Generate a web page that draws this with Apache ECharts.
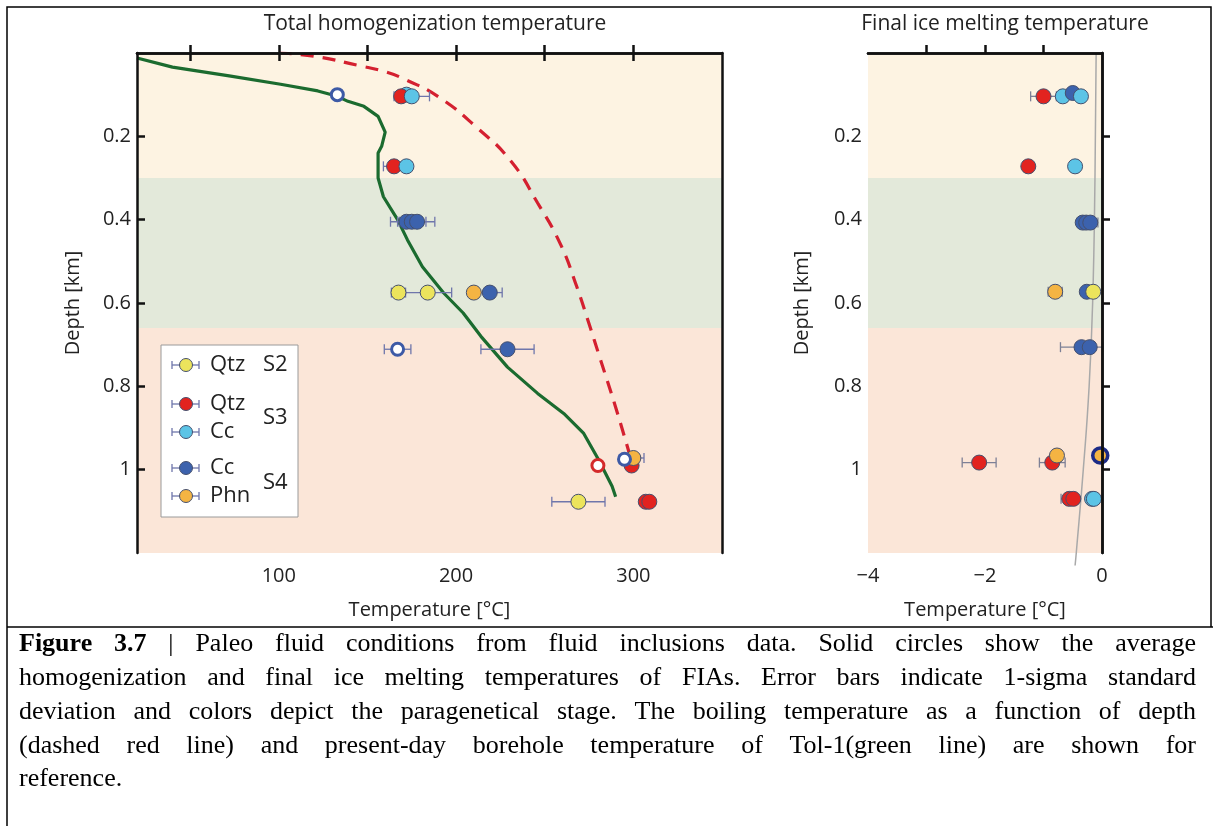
<!DOCTYPE html>
<html><head><meta charset="utf-8">
<script src="https://cdn.jsdelivr.net/npm/echarts/dist/echarts.min.js"></script>
<style>html,body{margin:0;padding:0;background:#fff;}#c{width:1213px;height:826px;}</style>
</head><body><div id="c"></div>
<script>
// ---------- DATA ----------
// Total homogenization temperature: [T (°C), depth (km), 1-sigma]
const qtzS2_Th = [[167.5,0.575,4],[184,0.575,13.5],[269,1.077,15]];
const qtzS3_Th = [[169,0.104,0],[165,0.272,6],[299,0.99,0],[307,1.077,0],[309,1.077,0]];
const ccS3_Th  = [[172,0.1,0],[175,0.104,10],[172,0.272,3]];
const ccS4_Th  = [[172,0.405,9],[175,0.405,8],[178,0.405,10],[219,0.575,7],[229,0.711,15]];
const phnS4_Th = [[210,0.575,0],[300,0.972,6]];
const openBlue_Th = [[133,0.1,0],[167,0.711,7.5],[295,0.975,3]];
const openRed_Th  = [[280,0.99,0]];
// present-day borehole temperature Tol-1: [T, depth]
const borehole = [[20,0.012],[40,0.034],[72,0.055],[101,0.075],[122,0.091],[133,0.104],[139,0.116],[148,0.128],[156,0.152],[160,0.19],[158,0.224],[156,0.24],[156,0.3],[159,0.345],[167,0.4],[172.5,0.448],[181,0.513],[193,0.576],[204,0.624],[214,0.68],[229,0.754],[246,0.817],[260.7,0.865],[272,0.913],[280,0.973],[288,1.04],[290,1.065]];
// boiling temperature curve: [T, depth]
const boiling = [[100,0.0],[120,0.008],[145,0.03],[160,0.045],[172,0.065],[190,0.105],[212,0.18],[231,0.26],[246,0.36],[259,0.46],[268,0.56],[275,0.65],[281,0.73],[290,0.85],[299,0.98]];
// Final ice melting temperature: [Tm (°C), depth (km), 1-sigma]
const qtzS2_Tm = [[-0.15,0.573,0]];
const qtzS3_Tm = [[-1.0,0.104,0.22],[-1.26,0.272,0],[-2.1,0.983,0.29],[-0.85,0.983,0.22],[-0.56,1.07,0.14],[-0.49,1.07,0]];
const ccS3_Tm  = [[-0.67,0.104,0],[-0.46,0.272,0],[-0.17,1.07,0],[-0.14,1.07,0]];
const ccS4_Tm  = [[-0.5,0.096,0],[-0.33,0.407,0],[-0.27,0.407,0],[-0.2,0.407,0.13],[-0.26,0.573,0],[-0.35,0.706,0.36],[-0.21,0.706,0]];
const ccS3b_Tm = [[-0.36,0.104,0]];
const phnS4_Tm = [[-0.8,0.573,0.12],[-0.77,0.966,0]];
const ringed_Tm = [[-0.03,0.966,0]];
const greyLine_Tm = [[-0.1,0.0],[-0.12,0.3],[-0.16,0.6],[-0.22,0.8],[-0.32,1.0],[-0.44,1.2],[-0.46,1.23]];
// stage bands (depth ranges)
const bands = [[0,0.3,'#fdf3e2'],[0.3,0.66,'#e3e9da'],[0.66,1.2,'#fbe6d8']];
// axis ticks
const thTicks = [50,100,150,200,250,300];
const thLabels = [100,200,300];
const tmTicks = [-3,-2,-1];
const tmLabels = [-4,-2,0];
const depthTicks = [0.2,0.4,0.6,0.8,1.0];

const FONT = '"Open Sans", "DejaVu Sans", sans-serif';
const C = {qtzS2:'#ece45c', qtzS3:'#e2231f', ccS3:'#5cc4e6', ccS4:'#3c62ad', phnS4:'#f4b443'};
const EDGE = '#45506e';

function errSeries(data, xi, yi, color){
  return {type:'custom', xAxisIndex:xi, yAxisIndex:yi, data:data, z:3, clip:false,
    encode:{x:0,y:1},
    renderItem:function(params, api){
      const x=api.value(0), y=api.value(1), s=api.value(2);
      if(!s) return null;
      const a=api.coord([x-s,y]), b=api.coord([x+s,y]); const h=5;
      const st={stroke:color, lineWidth:1.3};
      return {type:'group', children:[
        {type:'line', shape:{x1:a[0],y1:a[1],x2:b[0],y2:b[1]}, style:st},
        {type:'line', shape:{x1:a[0],y1:a[1]-h,x2:a[0],y2:a[1]+h}, style:st},
        {type:'line', shape:{x1:b[0],y1:b[1]-h,x2:b[0],y2:b[1]+h}, style:st}
      ]};
    }};
}
function dotSeries(data, xi, yi, fill, border, bw, size){
  return {type:'scatter', xAxisIndex:xi, yAxisIndex:yi, data:data.map(d=>[d[0],d[1]]), z:4,
    symbol:'circle', symbolSize:size||15, clip:false,
    itemStyle:{color:fill, borderColor:border||EDGE, borderWidth:bw||1, opacity:1}};
}
function group(data, xi, yi, fill, barColor, border, bw, size){
  return [errSeries(data, xi, yi, barColor), dotSeries(data, xi, yi, fill, border, bw, size)];
}
function bandSeries(xi, yi){
  return {type:'line', xAxisIndex:xi, yAxisIndex:yi, data:[], z:0, silent:true,
    markArea:{silent:true, data:bands.map(b=>[{yAxis:b[0], itemStyle:{color:b[2]}},{yAxis:b[1]}])}};
}
const BAR_L = '#6f76ab', BAR_R = '#7d8096';
const series = [].concat(
  [bandSeries(0,0), bandSeries(2,2)],
  [{type:'line', xAxisIndex:0, yAxisIndex:0, data:borehole, showSymbol:false, z:2,
    lineStyle:{color:'#1b6b2f', width:3.2}},
   {type:'line', xAxisIndex:0, yAxisIndex:0, data:boiling, showSymbol:false, smooth:true, z:2,
    lineStyle:{color:'#d42030', width:3.2, type:[13,9]}}],
  group(ccS3_Th.slice(0,1),0,0,C.ccS3,BAR_L),
  group(qtzS3_Th,0,0,C.qtzS3,BAR_L),
  group(ccS3_Th.slice(1),0,0,C.ccS3,BAR_L),
  group(qtzS2_Th,0,0,C.qtzS2,BAR_L),
  group(ccS4_Th,0,0,C.ccS4,BAR_L),
  group(phnS4_Th,0,0,C.phnS4,BAR_L),
  group(openBlue_Th,0,0,'#ffffff',BAR_L,'#3d5aa6',3,12),
  group(openRed_Th,0,0,'#ffffff',BAR_L,'#d42a2a',3,12),
  [{type:'line', xAxisIndex:2, yAxisIndex:2, data:greyLine_Tm, showSymbol:false, smooth:true, clip:false, z:2,
    lineStyle:{color:'#a9a9a9', width:1.5}}],
  group(qtzS3_Tm,2,2,C.qtzS3,BAR_R),
  group(ccS3_Tm,2,2,C.ccS3,BAR_R),
  group(ccS4_Tm,2,2,C.ccS4,BAR_R),
  group(ccS3b_Tm,2,2,C.ccS3,BAR_R),
  group(qtzS2_Tm,2,2,C.qtzS2,BAR_R),
  group(phnS4_Tm,2,2,C.phnS4,BAR_R),
  group(ringed_Tm,2,2,C.phnS4,BAR_R,'#1c2b86',3.5,15)
);

const AX = {color:'#111', width:2.5};
const lbl = {fontSize:20, color:'#222', fontFamily:FONT};
const nameStyle = {fontSize:20, color:'#222', fontFamily:FONT};
function fmtMinus(v){ v=+(+v).toFixed(1); return v<0 ? '\u2212'+Math.abs(v) : String(v); }

const option = {
  animation:false,
  backgroundColor:'#fff',
  title:[
    {text:'Total homogenization temperature', left:430, top:9, textAlign:'center', textStyle:{fontSize:21, fontWeight:'normal', color:'#222', fontFamily:FONT}},
    {text:'Final ice melting temperature', left:1000, top:9, textAlign:'center', textStyle:{fontSize:21, fontWeight:'normal', color:'#222', fontFamily:FONT}}
  ],
  grid:[
    {left:137, top:53, width:585, height:500},
    {left:868, top:53, width:234, height:500}
  ],
  xAxis:[
    {gridIndex:0, type:'value', min:20, max:350, position:'bottom', z:5,
     axisLine:{show:true, lineStyle:AX}, splitLine:{show:false},
     axisTick:{show:true, inside:true, length:8, lineStyle:AX, customValues:thTicks},
     axisLabel:Object.assign({customValues:thLabels, margin:13}, lbl),
     name:'Temperature [°C]', nameLocation:'middle', nameGap:47, nameTextStyle:nameStyle},
    {gridIndex:0, type:'value', min:20, max:350, position:'top', z:5,
     axisLine:{show:true, lineStyle:AX}, splitLine:{show:false},
     axisTick:{show:true, inside:true, length:8, lineStyle:AX, customValues:thTicks},
     axisLabel:{show:false}},
    {gridIndex:1, type:'value', min:-4, max:0, position:'bottom', z:5,
     axisLine:{show:true, lineStyle:AX}, splitLine:{show:false},
     axisTick:{show:true, inside:true, length:8, lineStyle:AX, customValues:tmTicks},
     axisLabel:Object.assign({customValues:tmLabels, margin:13, formatter:fmtMinus}, lbl),
     name:'Temperature [°C]', nameLocation:'middle', nameGap:47, nameTextStyle:nameStyle},
    {gridIndex:1, type:'value', min:-4, max:0, position:'top', z:5,
     axisLine:{show:true, lineStyle:AX}, splitLine:{show:false},
     axisTick:{show:false}, axisLabel:{show:false}}
  ],
  yAxis:[
    {gridIndex:0, type:'value', min:0, max:1.2, inverse:true, position:'left', z:5,
     axisLine:{show:true, lineStyle:AX}, splitLine:{show:false},
     axisTick:{show:true, inside:true, length:8, lineStyle:AX, customValues:depthTicks},
     axisLabel:Object.assign({customValues:depthTicks, margin:6, formatter:fmtMinus}, lbl),
     name:'Depth [km]', nameLocation:'middle', nameGap:54, nameRotate:90, nameTextStyle:nameStyle},
    {gridIndex:0, type:'value', min:0, max:1.2, inverse:true, position:'right', z:5,
     axisLine:{show:true, lineStyle:AX}, splitLine:{show:false}, axisTick:{show:false}, axisLabel:{show:false}},
    {gridIndex:1, type:'value', min:0, max:1.2, inverse:true, position:'left', z:5,
     axisLine:{show:true, lineStyle:AX}, splitLine:{show:false},
     axisTick:{show:true, inside:true, length:8, lineStyle:AX, customValues:depthTicks},
     axisLabel:Object.assign({customValues:depthTicks, margin:6, formatter:fmtMinus}, lbl),
     name:'Depth [km]', nameLocation:'middle', nameGap:56, nameRotate:90, nameTextStyle:nameStyle},
    {gridIndex:1, type:'value', min:0, max:1.2, inverse:true, position:'right', z:5,
     axisLine:{show:true, lineStyle:AX}, splitLine:{show:false}, axisTick:{show:false}, axisLabel:{show:false}}
  ],
  series:series
};

// ---------- legend + frame + caption (graphic) ----------
const legendRows = [
  {y:365, color:C.qtzS2, text:'Qtz'},
  {y:404, color:C.qtzS3, text:'Qtz'},
  {y:432, color:C.ccS3, text:'Cc'},
  {y:468, color:C.ccS4, text:'Cc'},
  {y:496, color:C.phnS4, text:'Phn'}
];
const legendStages = [{y:365, text:'S2'},{y:418, text:'S3'},{y:483, text:'S4'}];
const g = [];
g.push({type:'rect', z:100, shape:{x:161, y:345, width:137, height:172}, style:{fill:'#fff', stroke:'#9a9a9a', lineWidth:1}});
legendRows.forEach(r=>{
  const st={stroke:BAR_L, lineWidth:1.3};
  g.push({type:'line', z:101, shape:{x1:172,y1:r.y,x2:199,y2:r.y}, style:st});
  g.push({type:'line', z:101, shape:{x1:172,y1:r.y-4,x2:172,y2:r.y+4}, style:st});
  g.push({type:'line', z:101, shape:{x1:199,y1:r.y-4,x2:199,y2:r.y+4}, style:st});
  g.push({type:'circle', z:102, shape:{cx:186, cy:r.y, r:6.5}, style:{fill:r.color, stroke:EDGE, lineWidth:1}});
  g.push({type:'text', z:102, x:210, y:r.y, style:{text:r.text, fill:'#222', font:'22px '+FONT, textVerticalAlign:'middle', verticalAlign:'middle'}});
});
legendStages.forEach(s=>{
  g.push({type:'text', z:102, x:263, y:s.y, style:{text:s.text, fill:'#222', font:'22px '+FONT, verticalAlign:'middle', textVerticalAlign:'middle'}});
});
// frame
g.push({type:'polyline', z:50, shape:{points:[[7,826],[7,7],[1211,7],[1211,627]]}, style:{stroke:'#000', lineWidth:1.5, fill:null}});
g.push({type:'line', z:50, shape:{x1:7,y1:627,x2:1213,y2:627}, style:{stroke:'#000', lineWidth:1.5}});

// caption (justified)
const capFont = '26px "Liberation Serif", "Times New Roman", serif';
const capFontB = 'bold 26px "Liberation Serif", "Times New Roman", serif';
const capLines = [
  {y:644, words:[['Figure',1],['3.7',1],['|',0],['Paleo',0],['fluid',0],['conditions',0],['from',0],['fluid',0],['inclusions',0],['data.',0],['Solid',0],['circles',0],['show',0],['the',0],['average',0]], just:true},
  {y:678, text:'homogenization and final ice melting temperatures of FIAs. Error bars indicate 1-sigma standard', just:true},
  {y:712, text:'deviation and colors depict the paragenetical stage. The boiling temperature as a function of depth', just:true},
  {y:746, text:'(dashed red line) and present-day borehole temperature of Tol-1(green line) are shown for', just:true},
  {y:779, text:'reference.', just:false}
];
const ctx = document.createElement('canvas').getContext('2d');
const X0 = 19, X1 = 1196;
capLines.forEach(L=>{
  const words = L.words || L.text.split(' ').map(w=>[w,0]);
  const widths = words.map(w=>{ctx.font = w[1]?capFontB:capFont; return ctx.measureText(w[0]).width;});
  const total = widths.reduce((a,b)=>a+b,0);
  let gap = (L.just && words.length>1) ? (X1-X0-total)/(words.length-1) : 6;
  let sx = 1;
  if (gap < 5) { // too long: condense glyphs slightly
    sx = (X1-X0-5*(words.length-1))/total; gap = 5;
  }
  let x = X0;
  words.forEach((w,i)=>{
    g.push({type:'text', z:60, x:x, y:L.y, scaleX:sx, style:{text:w[0], fill:'#000', font:w[1]?capFontB:capFont, verticalAlign:'middle', textVerticalAlign:'middle'}});
    x += widths[i]*sx + gap;
  });
});
option.graphic = {elements:g};

const chart = echarts.init(document.getElementById('c'), null, {renderer:'canvas'});
chart.setOption(option);
</script>
</body></html>
